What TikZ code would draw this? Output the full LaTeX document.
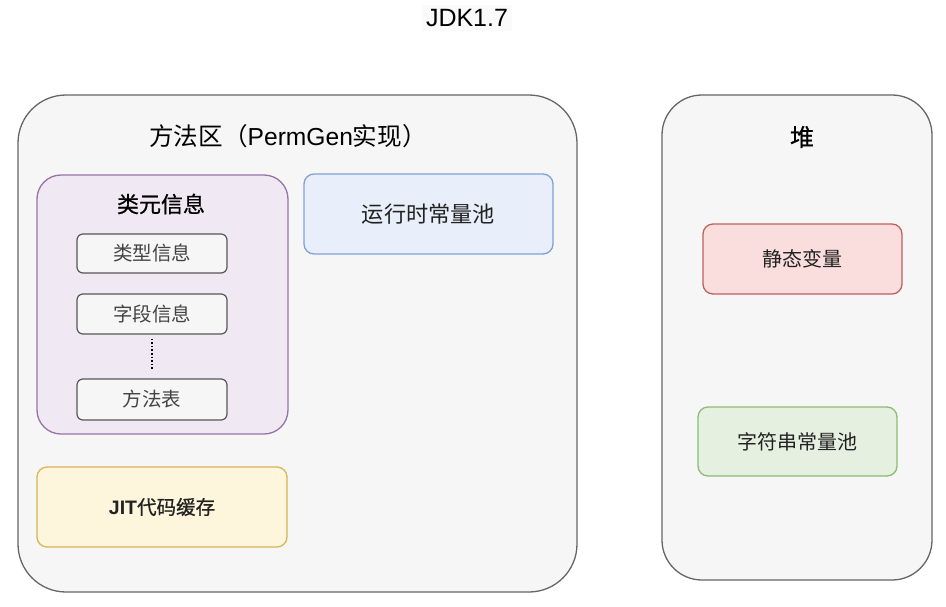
\documentclass[tikz,border=0pt]{standalone}
\usepackage{fontspec}
\usepackage{xcolor}
\usepackage{tikz}
\usetikzlibrary{positioning}
\setmainfont{Liberation Sans}
\newfontfamily\cjk{Noto Sans CJK SC}
\newfontfamily\cjkm[FakeBold=0.7]{Noto Sans CJK SC}
\definecolor{grayline}{HTML}{666666}
\definecolor{grayfill}{HTML}{F6F6F6}
\definecolor{purpleline}{HTML}{9673A6}
\definecolor{purplefill}{HTML}{F0E9F3}
\definecolor{blueline}{HTML}{7EA2D6}
\definecolor{bluefill}{HTML}{E8EFFA}
\definecolor{yellowline}{HTML}{D6B656}
\definecolor{yellowfill}{HTML}{FDF5DC}
\definecolor{redline}{HTML}{C0605C}
\definecolor{redfill}{HTML}{F9DEDD}
\definecolor{greenline}{HTML}{8DBB74}
\definecolor{greenfill}{HTML}{E5F0E0}
\definecolor{textcol}{HTML}{222222}
\tikzset{
    area/.style = {draw=grayline, fill=grayfill, line width=1.3pt, inner sep=0pt},
    block/.style = {line width=1.3pt, inner sep=0pt, rounded corners=10pt, text=textcol, font=\fontsize{20}{24}\selectfont\cjk},
    item/.style = {draw=grayline!85!black, fill=grayfill, line width=1.2pt, inner sep=0pt, rounded corners=6pt, minimum width=150pt, text=textcol!85, font=\fontsize{19.5}{23}\selectfont\cjk},
    heading/.style = {text=black, font=\fontsize{22}{26}\selectfont\cjkm},
}
\begin{document}
\begin{tikzpicture}[x=1pt,y=-1pt]
\useasboundingbox (0,0) rectangle (946,606);
% title
\node[fill=grayfill!60, inner sep=4pt, font=\fontsize{25}{28}\selectfont] at (467,18) (jdk) {JDK1.7};
% method area
\node[area, rounded corners=48pt, minimum width=559pt, minimum height=497pt] at (297.5,343.5) (ma) {};
\node[font=\fontsize{24.6}{28}\selectfont\cjk] at (288,136) (matitle) {方法区（{\fontspec{Liberation Sans}PermGen}实现）};
% class meta info
\node[block, draw=purpleline, fill=purplefill, rounded corners=24pt, minimum width=251pt, minimum height=259pt] at (162.5,304.5) (klass) {};
\node[heading] at (161,204) (klasstitle) {类元信息};
\node[item, minimum height=39pt] at (152,253.5) (typeinfo) {类型信息};
\node[item, minimum height=40pt] at (152,314) (fieldinfo) {字段信息};
\node[item, minimum height=41pt] at (152,399.5) (methodtable) {方法表};
\draw[dotted, line width=1.6pt, shorten <=4pt, shorten >=9pt] (fieldinfo) -- (methodtable);
% runtime constant pool
\node[block, draw=blueline, fill=bluefill, minimum width=249pt, minimum height=80pt, font=\fontsize{22.2}{26}\selectfont\cjk] at (428.5,214) (rtpool) {运行时常量池};
% jit
\node[block, draw=yellowline, fill=yellowfill, minimum width=250pt, minimum height=80pt, font=\fontsize{19.5}{23}\selectfont\cjkm] at (162,507) (jit) {{\fontspec{Liberation Sans}\bfseries JIT}代码缓存};
% heap
\node[area, rounded corners=40pt, minimum width=270pt, minimum height=485pt] at (797,337.5) (heap) {};
\node[heading, font=\fontsize{24}{28}\selectfont\cjkm] at (802,137) (heaptitle) {堆};
\node[block, draw=redline, fill=redfill, minimum width=199pt, minimum height=70pt] at (802.5,259) (static) {静态变量};
\node[block, draw=greenline, fill=greenfill, minimum width=199pt, minimum height=69pt] at (797.5,441.5) (strpool) {字符串常量池};
\end{tikzpicture}
\end{document}
